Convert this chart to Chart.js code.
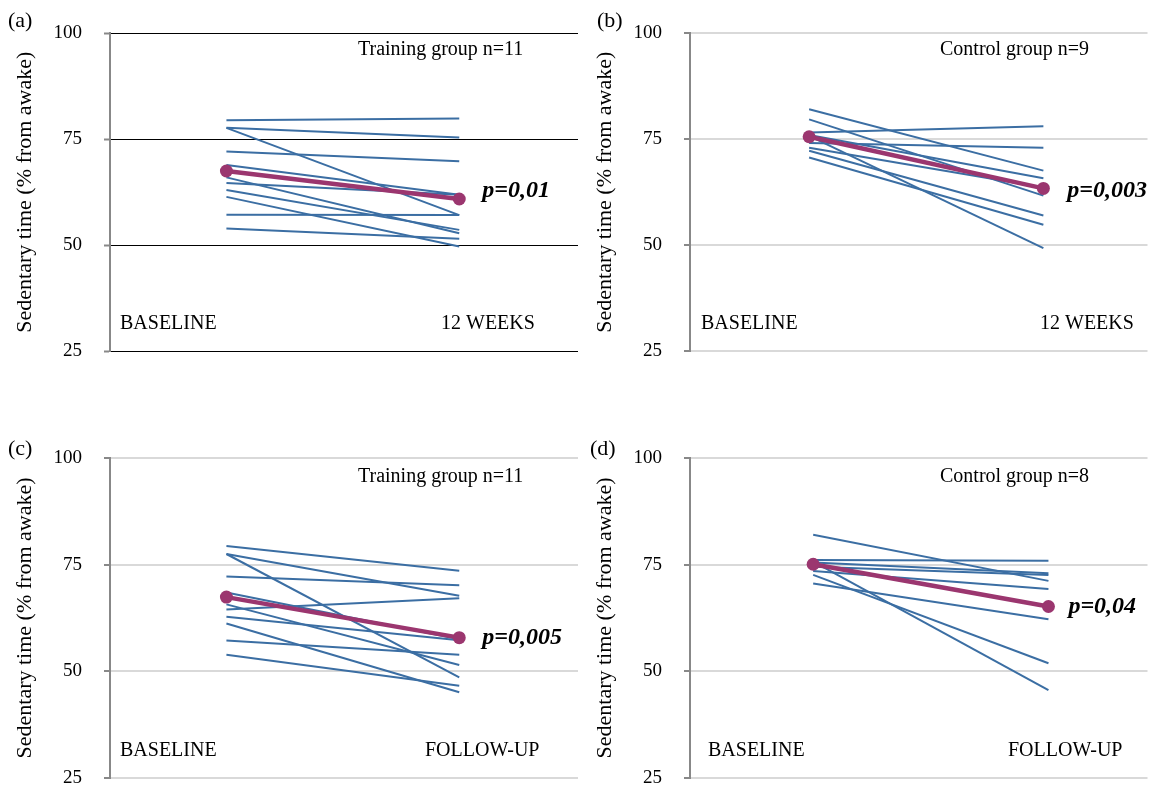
<!DOCTYPE html>
<html><head><meta charset="utf-8">
<script src="https://cdn.jsdelivr.net/npm/chart.js@4.4.0/dist/chart.umd.min.js"></script>
<style>
html,body{margin:0;padding:0;background:#fff;overflow:hidden;width:1154px;height:787px;}
canvas{position:absolute;left:0;top:0;}
</style></head><body>
<canvas id="ca" width="1154" height="840"></canvas>
<canvas id="cb" width="1154" height="840"></canvas>
<canvas id="cc" width="1154" height="840"></canvas>
<canvas id="cd" width="1154" height="840"></canvas>
<script>
// ---- data ----
const yTickValues = [25, 50, 75, 100];
const yTitle = 'Sedentary time (% from awake)';
const timeLabels12w = ['BASELINE', '12 WEEKS'];
const timeLabelsFU = ['BASELINE', 'FOLLOW-UP'];
const panelLetters = ['(a)', '(b)', '(c)', '(d)'];
const groupLabels = ['Training group n=11', 'Control group n=9', 'Training group n=11', 'Control group n=8'];
const pValues = ['p=0,01', 'p=0,003', 'p=0,005', 'p=0,04'];

const aBaseline = [79.5, 77.7, 77.7, 72.1, 68.9, 66.0, 64.7, 63.0, 61.4, 57.2, 53.9];
const aWeek12   = [79.9, 75.4, 57.1, 69.8, 61.9, 52.8, 61.9, 53.6, 49.7, 57.1, 51.5];
const aMean     = [67.5, 60.9];

const bBaseline = [82.1, 79.7, 76.6, 75.8, 74.1, 73.0, 72.3, 70.7, 76.0];
const bWeek12   = [67.6, 61.7, 78.1, 49.3, 73.0, 63.6, 57.0, 54.8, 65.8];
const bMean     = [75.6, 63.4];

const cBaseline = [79.4, 77.5, 77.5, 72.2, 68.5, 65.7, 64.5, 62.8, 61.2, 57.2, 53.9];
const cFollowUp = [73.6, 67.7, 48.6, 70.2, 57.5, 51.5, 67.1, 57.3, 45.1, 53.9, 46.6];
const cMean     = [67.4, 57.9];

const dBaseline = [82.0, 76.1, 75.7, 75.5, 74.5, 73.5, 72.6, 70.6];
const dFollowUp = [71.2, 75.9, 45.6, 73.0, 72.6, 69.3, 51.9, 62.2];
const dMean     = [75.1, 65.2];

// ---- styling / layout ----
const SERIF = '"Liberation Serif", "Times New Roman", serif';
const BLUE = '#3b6ea3';
const MAG = '#9b366f';
const H = 840;

function makePanel(id, base, follow, mean, opt) {
  const datasets = base.map((v, i) => ({
    data: [{x: 1, y: v}, {x: 3, y: follow[i]}],
    borderColor: BLUE, borderWidth: 2, pointRadius: 0, tension: 0, order: 2
  }));
  datasets.push({
    data: [{x: 1, y: mean[0]}, {x: 3, y: mean[1]}],
    borderColor: MAG, backgroundColor: MAG, borderWidth: 4.5,
    pointRadius: 6.5, pointBorderWidth: 0, pointBackgroundColor: MAG, order: 1
  });
  const textPlugin = {
    id: 'txt' + id,
    afterDatasetsDraw(chart) {
      const ctx = chart.ctx;
      ctx.save();
      ctx.fillStyle = '#000';
      ctx.textAlign = 'left';
      ctx.textBaseline = 'alphabetic';
      ctx.font = '22px ' + SERIF;
      ctx.fillText(opt.letter, opt.letterX, opt.letterY);
      ctx.font = '20px ' + SERIF;
      ctx.fillText(opt.group, opt.groupX, opt.groupY);
      ctx.fillText(opt.times[0], opt.t0X, opt.tY);
      ctx.fillText(opt.times[1], opt.t1X, opt.tY);
      const xs = chart.scales.x, ys = chart.scales.y;
      ctx.font = 'italic bold 24px ' + SERIF;
      ctx.textBaseline = 'middle';
      ctx.fillText(opt.p, xs.getPixelForValue(3) + opt.pDx, ys.getPixelForValue(mean[1]) + opt.pDy);
      ctx.restore();
    }
  };
  return new Chart(document.getElementById(id), {
    type: 'line',
    data: {datasets},
    options: {
      responsive: false, animation: false, devicePixelRatio: 1,
      layout: {padding: opt.pad},
      plugins: {legend: {display: false}, tooltip: {enabled: false}},
      scales: {
        x: {type: 'linear', display: false, min: opt.xmin, max: opt.xmax},
        y: {
          min: 25, max: 100,
          afterBuildTicks: (s) => { s.ticks = yTickValues.map(v => ({value: v})); },
          afterFit: (s) => { s.width = 110; },
          ticks: {color: '#000', font: {family: SERIF, size: 19}, padding: 22},
          grid: {color: opt.gridColor, lineWidth: opt.gridWidth, tickLength: 6, tickColor: '#888', tickWidth: 2},
          border: {display: true, color: '#888', width: 2},
          title: {display: true, text: yTitle, color: '#000', font: {family: SERIF, size: 22}, padding: {top: 12, bottom: 0}}
        }
      }
    },
    plugins: [textPlugin]
  });
}

makePanel('ca', aBaseline, aWeek12, aMean, {
  pad: {left: 0, top: 32, right: 576, bottom: H - 351}, xmin: 0, xmax: 4.02,
  gridColor: '#000', gridWidth: 1,
  letter: panelLetters[0], letterX: 8, letterY: 27,
  group: groupLabels[0], groupX: 358, groupY: 55,
  times: timeLabels12w, t0X: 120, t1X: 441, tY: 329,
  p: pValues[0], pDx: 23, pDy: -8
});
makePanel('cb', bBaseline, bWeek12, bMean, {
  pad: {left: 580, top: 32, right: 0, bottom: H - 351}, xmin: -0.017, xmax: 3.889,
  gridColor: '#d9d9d9', gridWidth: 2,
  letter: panelLetters[1], letterX: 597, letterY: 27,
  group: groupLabels[1], groupX: 940, groupY: 55,
  times: timeLabels12w, t0X: 701, t1X: 1040, tY: 329,
  p: pValues[1], pDx: 24, pDy: 2
});
makePanel('cc', cBaseline, cFollowUp, cMean, {
  pad: {left: 0, top: 458, right: 576, bottom: H - 778}, xmin: 0, xmax: 4.02,
  gridColor: '#d9d9d9', gridWidth: 2,
  letter: panelLetters[2], letterX: 8, letterY: 455,
  group: groupLabels[2], groupX: 358, groupY: 482,
  times: timeLabelsFU, t0X: 120, t1X: 425, tY: 756,
  p: pValues[2], pDx: 23, pDy: 0
});
makePanel('cd', dBaseline, dFollowUp, dMean, {
  pad: {left: 580, top: 458, right: 0, bottom: H - 778}, xmin: -0.047, xmax: 3.842,
  gridColor: '#d9d9d9', gridWidth: 2,
  letter: panelLetters[3], letterX: 590, letterY: 455,
  group: groupLabels[3], groupX: 940, groupY: 482,
  times: timeLabelsFU, t0X: 708, t1X: 1008, tY: 756,
  p: pValues[3], pDx: 20, pDy: 0
});
</script>
</body></html>
